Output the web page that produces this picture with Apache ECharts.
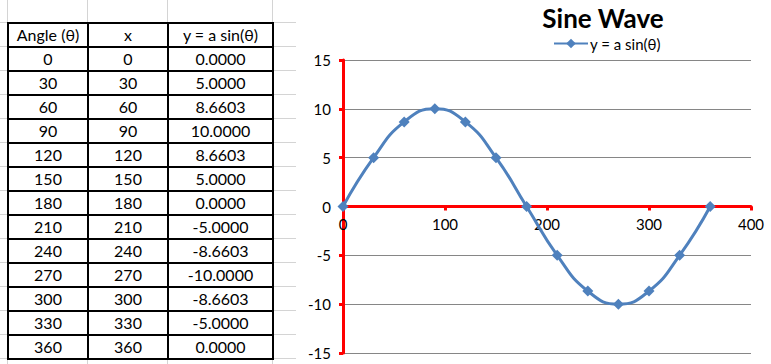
<!DOCTYPE html>
<html>
<head>
<meta charset="utf-8">
<script src="https://cdn.jsdelivr.net/npm/echarts@6/dist/echarts.min.js"></script>
<style>
html,body{margin:0;padding:0;background:#fff;width:771px;height:364px;overflow:hidden;font-family:Lato,"Open Sans",sans-serif;}
#sheet{position:absolute;left:0;top:0;width:296px;height:364px;}
.gl{position:absolute;background:#d4d4d4;}
table{position:absolute;left:7px;top:22px;border-collapse:collapse;font-family:Lato,"Open Sans",sans-serif;font-size:16px;color:#000;}
td{border:2px solid #000;text-align:center;padding:0;height:22px;line-height:22px;}
#chart{position:absolute;left:296px;top:0;width:475px;height:364px;background:#fff;}
</style>
</head>
<body>
<div id="sheet"></div>
<div id="chart"></div>
<script>
var headers = ["Angle (\u03B8)", "x", "y = a sin(\u03B8)"];
var angles = [0, 30, 60, 90, 120, 150, 180, 210, 240, 270, 300, 330, 360];
var xValues = [0, 30, 60, 90, 120, 150, 180, 210, 240, 270, 300, 330, 360];
var yValues = [0.0000, 5.0000, 8.6603, 10.0000, 8.6603, 5.0000, 0.0000, -5.0000, -8.6603, -10.0000, -8.6603, -5.0000, 0.0000];
var yLabels = ["0.0000","5.0000","8.6603","10.0000","8.6603","5.0000","0.0000","-5.0000","-8.6603","-10.0000","-8.6603","-5.0000","0.0000"];
var xTicks = [0, 100, 200, 300, 400];
var yTicks = [-15, -10, -5, 0, 5, 10, 15];

// spreadsheet gridlines
var sheet = document.getElementById('sheet');
[7, 87, 167, 272].forEach(function (x) {
  var d = document.createElement('div'); d.className = 'gl';
  d.style.left = x + 'px'; d.style.top = '0px'; d.style.width = '1px'; d.style.height = '364px';
  sheet.appendChild(d);
});
for (var k = 0; k <= 14; k++) {
  var d = document.createElement('div'); d.className = 'gl';
  d.style.left = '0px'; d.style.top = (22 + 24 * k) + 'px'; d.style.width = '296px'; d.style.height = '1px';
  sheet.appendChild(d);
}
// table
var tbl = document.createElement('table');
var colW = [78, 78, 103];
var tr = document.createElement('tr');
headers.forEach(function (h, i) { var td = document.createElement('td'); td.textContent = h; td.style.width = colW[i] + 'px'; tr.appendChild(td); });
tbl.appendChild(tr);
for (var i = 0; i < angles.length; i++) {
  tr = document.createElement('tr');
  [String(angles[i]), String(xValues[i]), yLabels[i]].forEach(function (v, j) {
    var td = document.createElement('td'); td.textContent = v; td.style.width = colW[j] + 'px'; tr.appendChild(td);
  });
  tbl.appendChild(tr);
}
sheet.appendChild(tbl);

var chart = echarts.init(document.getElementById('chart'), null, {renderer: 'svg'});
var lineColor = '#4F81BD';
var gridTop = 60, gridBottom = 11, gridH = 364 - gridTop - gridBottom;
chart.setOption({
  animation: false,
  textStyle: {fontFamily: 'Lato, "Open Sans", sans-serif'},
  title: {
    text: 'Sine Wave', left: 307, top: 3, textAlign: 'center', padding: 0,
    textStyle: {fontSize: 26, lineHeight: 30, fontWeight: 'bold', color: '#000', fontFamily: 'Lato, "Open Sans", sans-serif'}
  },
  legend: {
    left: 257, top: 36, padding: 0, itemWidth: 34, itemHeight: 12, itemGap: 5,
    textStyle: {fontSize: 15, color: '#000', padding: [0, 0, 0, -3]},
    data: ['y = a sin(\u03B8)']
  },
  grid: {left: 47, right: 20, top: gridTop, bottom: gridBottom, containLabel: false, outerBoundsMode: 'none'},
  xAxis: {
    type: 'value', min: xTicks[0], max: xTicks[xTicks.length - 1], interval: xTicks[1] - xTicks[0],
    position: 'bottom',
    offset: -gridH * (0 - yTicks[0]) / (yTicks[yTicks.length - 1] - yTicks[0]),
    axisLine: {onZero: false, lineStyle: {color: '#ff0000', width: 3}},
    axisTick: {show: true, length: 4, lineStyle: {color: '#ff0000', width: 3}},
    axisLabel: {color: '#000', fontSize: 15, margin: 10},
    splitLine: {show: false}
  },
  yAxis: {
    type: 'value', min: yTicks[0], max: yTicks[yTicks.length - 1], interval: yTicks[1] - yTicks[0],
    axisLine: {show: true, onZero: false, lineStyle: {color: '#ff0000', width: 3}},
    axisTick: {show: true, length: 4, lineStyle: {color: '#ff0000', width: 3}},
    axisLabel: {color: '#000', fontSize: 15, margin: 12},
    splitLine: {show: true, lineStyle: {color: '#868686', width: 1}}
  },
  series: [{
    name: 'y = a sin(\u03B8)', type: 'line', smooth: true,
    data: xValues.map(function (x, i) { return [x, yValues[i]]; }),
    symbol: 'diamond', symbolSize: 11, showSymbol: true,
    lineStyle: {color: lineColor, width: 3},
    itemStyle: {color: lineColor},
    z: 3
  }]
});
</script>
</body>
</html>
